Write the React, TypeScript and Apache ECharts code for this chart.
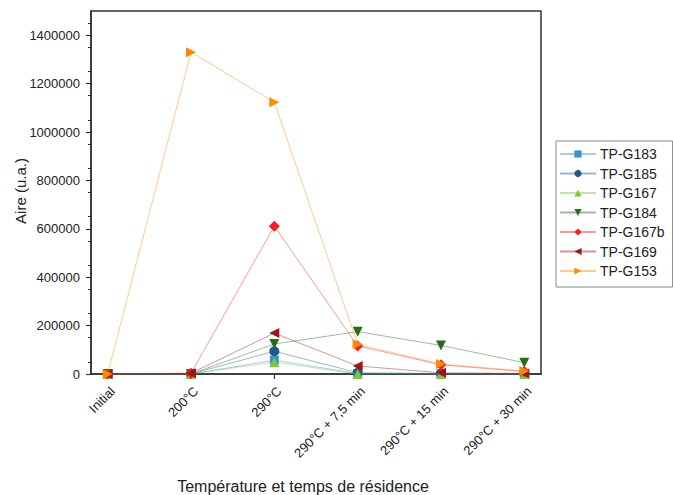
import React, { useEffect, useRef } from "react";
import * as echarts from "echarts";

const categories = ["Initial", "200°C", "290°C", "290°C + 7,5 min", "290°C + 15 min", "290°C + 30 min"];
const seriesNames = ["TP-G183", "TP-G185", "TP-G167", "TP-G184", "TP-G167b", "TP-G169", "TP-G153"];
const tpG183 = [0, 0, 57000, 2000, 1000, 500];
const tpG185 = [0, 0, 94000, 5000, 2000, 1000];
const tpG167 = [0, 0, 49000, 0, 0, 0];
const tpG184 = [0, 0, 124000, 175000, 118000, 47000];
const tpG167b = [0, 3000, 611000, 116000, 38000, 10000];
const tpG169 = [0, 3000, 169000, 33000, 5000, 2000];
const tpG153 = [0, 1330000, 1123000, 123000, 41000, 12000];
const yTicks = [0, 200000, 400000, 600000, 800000, 1000000, 1200000, 1400000];
const xTitle = "Température et temps de résidence";
const yTitle = "Aire (u.a.)";

const allValues = [tpG183, tpG185, tpG167, tpG184, tpG167b, tpG169, tpG153];
const colors = ["#3d8fd0", "#1d5a8c", "#78c83a", "#266c1c", "#ff1a1a", "#9e1616", "#ff8a00"];
const symbols = [
  "rect",
  "circle",
  "triangle",
  "path://M0,0 L10,0 L5,9 Z",
  "diamond",
  "path://M9,0 L9,10 L0,5 Z",
  "path://M0,0 L9,5 L0,10 Z",
];
const sizes = [9, 10, 10, 10, 11, 10, 10];

const FONT = "'Liberation Sans', Arial, sans-serif";

export default function App() {
  const ref = useRef<HTMLDivElement>(null);
  useEffect(() => {
    const chart = echarts.init(ref.current!, null, { renderer: "svg" });
    chart.setOption({
      animation: false,
      backgroundColor: "#ffffff",
      textStyle: { fontFamily: FONT },
      grid: {
        left: 91,
        top: 11,
        right: 132,
        bottom: 121,
        containLabel: false,
        outerBoundsMode: "none",
        show: true,
        borderColor: "#333",
        borderWidth: 1.5,
        backgroundColor: "transparent",
      },
      graphic: [
        {
          type: "text",
          x: 303,
          y: 486,
          style: { text: xTitle, fontFamily: FONT, fontSize: 16, fill: "#222", align: "center", verticalAlign: "middle" },
        },
        {
          type: "text",
          x: 20.5,
          y: 191,
          rotation: Math.PI / 2,
          style: { text: yTitle, fontFamily: FONT, fontSize: 15, fill: "#222", align: "center", verticalAlign: "middle" },
        },
      ],
      legend: {
        orient: "vertical",
        left: 556,
        top: 141,
        data: seriesNames,
        itemWidth: 36,
        itemHeight: 9,
        itemGap: 5.5,
        padding: [6, 8, 9, 3],
        borderColor: "#888",
        borderWidth: 1,
        textStyle: { fontFamily: FONT, fontSize: 14, color: "#222", padding: [0, 0, 0, -1] },
      },
      xAxis: {
        type: "value",
        min: -0.2,
        max: 5.2,
        axisLine: { show: true, onZero: false, lineStyle: { color: "#333", width: 1.5 } },
        axisTick: { show: true, inside: false, length: 5, customValues: [0, 1, 2, 3, 4, 5], lineStyle: { color: "#333", width: 1.2 } },
        axisLabel: {
          customValues: [0, 1, 2, 3, 4, 5],
          rotate: 45,
          margin: 20,
          padding: [0, -7, 0, 0],
          fontSize: 13,
          color: "#222",
          fontFamily: FONT,
          formatter: (v: number) => categories[Math.round(v)] ?? "",
        },
        splitLine: { show: false },
      },
      yAxis: {
        type: "value",
        min: 0,
        max: 1500000,
        interval: 100000,
        axisLine: { show: true, onZero: false, lineStyle: { color: "#333", width: 1.5 } },
        axisTick: { show: true, length: 5, customValues: yTicks, lineStyle: { color: "#333", width: 1.2 } },
        minorTick: { show: true, splitNumber: 2, length: 3, lineStyle: { color: "#333", width: 1 } },
        axisLabel: {
          customValues: yTicks,
          margin: 11,
          fontSize: 13,
          color: "#222",
          fontFamily: FONT,
          formatter: (v: number) => String(v),
        },
        splitLine: { show: false },
        minorSplitLine: { show: false },
      },
      series: seriesNames.map((name, i) => ({
        name,
        type: "line",
        data: allValues[i].map((v, j) => [j, v]),
        symbol: symbols[i],
        symbolSize: sizes[i],
        showAllSymbol: true,
        lineStyle: { color: colors[i], width: 1, opacity: 0.45 },
        itemStyle: { color: colors[i] },
        z: 2 + i,
      })),
    });
    return () => chart.dispose();
  }, []);
  return <div ref={ref} style={{ width: 673, height: 495, position: "absolute", left: 0, top: 0 }} />;
}
